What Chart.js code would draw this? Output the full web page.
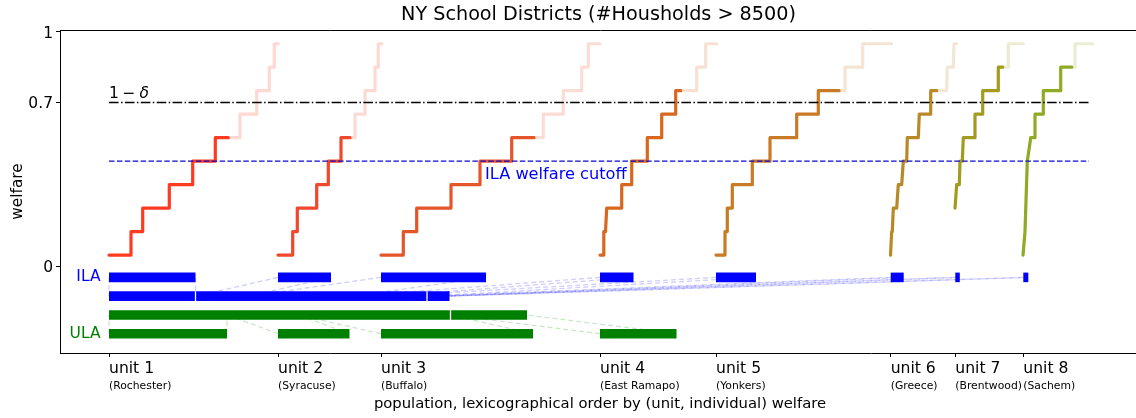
<!DOCTYPE html>
<html><head><meta charset="utf-8">
<script src="https://cdn.jsdelivr.net/npm/chart.js@4.4.1/dist/chart.umd.min.js"></script>
<style>
html,body{margin:0;padding:0;background:#fff;overflow:hidden;width:1136px;height:418px}
#wrap{position:absolute;left:0;top:0;width:1146px;height:418px}
</style>
</head><body><div id="wrap"><canvas id="c" width="1146" height="418"></canvas></div>
<script>
// ---------------- data ----------------
const unitLabels = ['unit 1','unit 2','unit 3','unit 4','unit 5','unit 6','unit 7','unit 8'];
const unitCities = ['(Rochester)','(Syracuse)','(Buffalo)','(East Ramapo)','(Yonkers)','(Greece)','(Brentwood)','(Sachem)'];
const unitStart = [0, 169, 272, 491, 607, 781.7, 846.3, 914.3];
const welfareLevels = [0.05, 0.15, 0.25, 0.35, 0.45, 0.55, 0.65, 0.75, 0.85, 0.95];
// population range [from, to] held at each welfare level (null = nobody at that level)
const unit1Steps = [[0,22],[22,33.7],[33.7,60.3],[60.3,83.7],[83.7,106.3],[106.3,131],[131,147.7],[147.7,160.3],[160.3,165.3],[165.3,169.3]];
const unit2Steps = [[169,183.7],[183.7,188.3],[188.3,207.7],[207.7,219.3],[219.3,232],[232,246],[246,256],[256,266],[266,269.3],[269.3,272.7]];
const unit3Steps = [[272,294.3],[294.3,307.7],[307.7,342],[342,371],[371,402.7],[402.7,434.3],[434.3,454.3],[454.3,472.7],[472.7,479.3],[479.3,491]];
const unit4Steps = [[491,494.3],[494.8,496.5],[497.7,512.7],[512.7,522.7],[522.7,538.3],[538.3,552.7],[552.7,566.7],[566.7,587.7],[587.7,596.7],[596.7,607.7]];
const unit5Steps = [[607,616],[616,618.3],[618.3,623.3],[623.3,643.3],[643.3,661],[661,687.7],[687.7,709.3],[709.3,736],[736,753.7],[753.7,782.7]];
const unit6Steps = [[781.5,781.5],[782.7,783.3],[784.3,787.7],[789.3,792.7],[794.3,797.7],[798.3,809.3],[810.3,821],[821.7,837.7],[838.3,844.3],[845,847.7]];
const unit7Steps = [null,null,[846,846],[847.7,850.3],[851,853.3],[854.3,866],[866,873.7],[873.7,889.3],[889.3,899.3],[899.3,914.3]];
const unit8Steps = [[914,914],[916,916],null,null,[918.3,918.3],[921.7,926],[926,934.3],[934.3,951.7],[951.7,966],[966,983.7]];
const brightUntil = [119.3, 241, 425, 571.7, 730, 827.7, 893.7, 962.7];
const ilaWidth = [86.5, 53, 105, 33.5, 40, 13, 4.5, 5];
const ulaWidth = [118, 71.5, 152, 76.5];
const ilaGapAfter = [1, 5];
const ulaGapAfter = [3];
const deltaLevel = 0.7;
const ilaCutoff = 0.45;
const refLineEnd = 980;
const yTickValues = [0, 0.7, 1];
const rowILA = -0.045, rowILAPacked = -0.125, rowULAPacked = -0.205, rowULA = -0.285;

// ---------------- styles ----------------
const FONT = 'DejaVu Sans';
const unitColors = ['#ff3a22','#f0482a','#e4562a','#d8681f','#c87b24','#b88927','#a39b20','#8faa24'];
function rgba(hex, a){const n=parseInt(hex.slice(1),16);return `rgba(${n>>16&255},${n>>8&255},${n&255},${a})`;}

const allSteps = [unit1Steps,unit2Steps,unit3Steps,unit4Steps,unit5Steps,unit6Steps,unit7Steps,unit8Steps];
const datasets = [];

// welfare curves
allSteps.forEach((steps, u) => {
  const pts = [];
  steps.forEach((s, i) => { if (s) { pts.push({x:s[0], y:welfareLevels[i]}); if (s[1] !== s[0]) pts.push({x:s[1], y:welfareLevels[i]}); } });
  const split = brightUntil[u];
  const bright = [], faded = [];
  for (let i = 0; i < pts.length; i++) {
    const p = pts[i];
    if (p.x <= split) bright.push(p);
    if (i > 0) {
      const q = pts[i-1];
      if (q.x < split && p.x > split) {
        const m = {x: split, y: q.y + (p.y - q.y) * (split - q.x) / (p.x - q.x)};
        bright.push(m); faded.push(m);
      }
    }
    if (p.x > split) faded.push(p);
  }
  const base = {type:'line', pointRadius:0, borderWidth:3.2, fill:false, tension:0, borderJoinStyle:'round', borderCapStyle:'round'};
  datasets.push(Object.assign({}, base, {data:faded, borderColor:rgba(unitColors[u],0.2), order:41}));
  datasets.push(Object.assign({}, base, {data:bright, borderColor:unitColors[u], order:40}));
});

// reference lines
datasets.push({type:'line', data:[{x:0,y:deltaLevel},{x:refLineEnd,y:deltaLevel}], borderColor:'#000', borderWidth:1.4, borderDash:[9.6,2.4,1.5,2.4], pointRadius:0, order:30});
datasets.push({type:'line', data:[{x:0,y:ilaCutoff},{x:refLineEnd,y:ilaCutoff}], borderColor:'#0a0ad2', borderWidth:1.4, borderDash:[5.5,2.4], pointRadius:0, order:31});

// bars
function bar(x0, x1, y, color){
  datasets.push({type:'line', data:[{x:x0,y:y},{x:x1,y:y}], borderColor:color, borderWidth:9.6, borderCapStyle:'butt', pointRadius:0, order:20});
}
function connector(xa, ya, xb, yb, color){
  datasets.push({type:'line', data:[{x:xa,y:ya},{x:xb,y:yb}], borderColor:color, borderWidth:1.3, borderDash:[5,3], pointRadius:0, order:50});
}
function gap(xg, y){
  datasets.push({type:'line', data:[{x:xg,y:y+0.021},{x:xg,y:y-0.021}], borderColor:'#fff', borderWidth:1.3, pointRadius:0, order:10});
}
function packedRow(widths, rowTop, rowPacked, gapsAfter, color, linkColor){
  let cum = 0;
  widths.forEach((w, u) => {
    const s = unitStart[u];
    bar(s, s + w, rowTop, color);
    connector(s, rowTop, cum, rowPacked, linkColor);
    connector(s + w, rowTop, cum + w, rowPacked, linkColor);
    cum += w;
    if (gapsAfter.includes(u + 1) && u + 1 < widths.length) gap(cum, rowPacked);
  });
  bar(0, cum, rowPacked, color);
}
packedRow(ilaWidth, rowILA, rowILAPacked, ilaGapAfter, '#0000ff', 'rgba(80,80,255,0.28)');
packedRow(ulaWidth, rowULA, rowULAPacked, ulaGapAfter, '#008000', 'rgba(0,128,0,0.2)');

// ---------------- decorations (text) ----------------
const decor = {
  id: 'decor',
  afterDraw(chart){
    const {ctx, chartArea:a, scales:{x, y}} = chart;
    ctx.save();
    ctx.strokeStyle = '#000'; ctx.lineWidth = 1;
    ctx.beginPath(); ctx.moveTo(a.left, a.top + 0.5); ctx.lineTo(a.right, a.top + 0.5); ctx.stroke();
    ctx.fillStyle = '#000';
    // title
    ctx.font = `19.2px "${FONT}"`; ctx.textAlign = 'center'; ctx.textBaseline = 'alphabetic';
    ctx.fillText('NY School Districts (#Housholds > 8500)', (a.left + a.right) / 2 - 2, 19.5);
    // axis titles
    ctx.font = `14.8px "${FONT}"`;
    ctx.fillText('population, lexicographical order by (unit, individual) welfare', (a.left + a.right) / 2 - 0.5, 408);
    ctx.font = `15.3px "${FONT}"`;
    ctx.save(); ctx.translate(21.5, (a.top + a.bottom) / 2); ctx.rotate(-Math.PI / 2);
    ctx.fillText('welfare', 0, 0); ctx.restore();
    // city names
    ctx.font = `10.8px "${FONT}"`; ctx.textAlign = 'left';
    unitStart.forEach((v, i) => ctx.fillText(unitCities[i], x.getPixelForValue(v), 389));
    // 1 - delta
    const x0 = x.getPixelForValue(0);
    const yd = y.getPixelForValue(deltaLevel) - 4.5;
    ctx.font = `15.5px "${FONT}"`;
    ctx.fillText('1', x0, yd);
    ctx.fillText('\u2212', x0 + 13.5, yd);
    ctx.font = `italic 15.5px "${FONT}"`;
    ctx.fillText('\u03b4', x0 + 30.5, yd);
    // cutoff label
    ctx.font = `16.2px "${FONT}"`; ctx.fillStyle = '#0000ff';
    ctx.fillText('ILA welfare cutoff', x.getPixelForValue(376), y.getPixelForValue(ilaCutoff) + 18);
    // row labels
    ctx.font = `15.5px "${FONT}"`;
    ctx.textAlign = 'right'; ctx.textBaseline = 'middle';
    ctx.fillText('ILA', x0 - 8.5, y.getPixelForValue(rowILA));
    ctx.fillStyle = '#008000';
    ctx.fillText('ULA', x0 - 8.5, y.getPixelForValue(rowULA));
    ctx.restore();
  }
};

Chart.defaults.font.family = FONT;
new Chart(document.getElementById('c'), {
  type: 'line',
  data: {datasets},
  options: {
    responsive: false, animation: false, devicePixelRatio: 1, events: [],
    layout: {padding: {top: 30, right: 5, left: 0, bottom: 0}},
    plugins: {legend: {display: false}, tooltip: {enabled: false}, title: {display: false}},
    scales: {
      x: {
        type: 'linear', min: -49, max: 1032, position: 'bottom',
        afterBuildTicks: s => { s.ticks = unitStart.map(v => ({value: v})); },
        afterFit: s => { s.height = 65; },
        ticks: {callback: (v, i) => unitLabels[i], align: 'start', autoSkip: false, maxRotation: 0, color: '#000', font: {size: 15.6}, padding: 3},
        grid: {drawOnChartArea: false, drawTicks: true, tickLength: 4, color: '#000'},
        border: {display: true, color: '#000', width: 1}
      },
      y: {
        type: 'linear', min: -0.367, max: 1.0085,
        afterBuildTicks: s => { s.ticks = yTickValues.map(v => ({value: v})); },
        afterFit: s => { s.width = 60; },
        ticks: {callback: v => String(v), color: '#000', font: {size: 15.5}, padding: 3, labelOffset: 1.5},
        grid: {drawOnChartArea: false, drawTicks: true, tickLength: 4, color: '#000'},
        border: {display: true, color: '#000', width: 1}
      }
    }
  },
  plugins: [decor]
});
</script></body></html>
